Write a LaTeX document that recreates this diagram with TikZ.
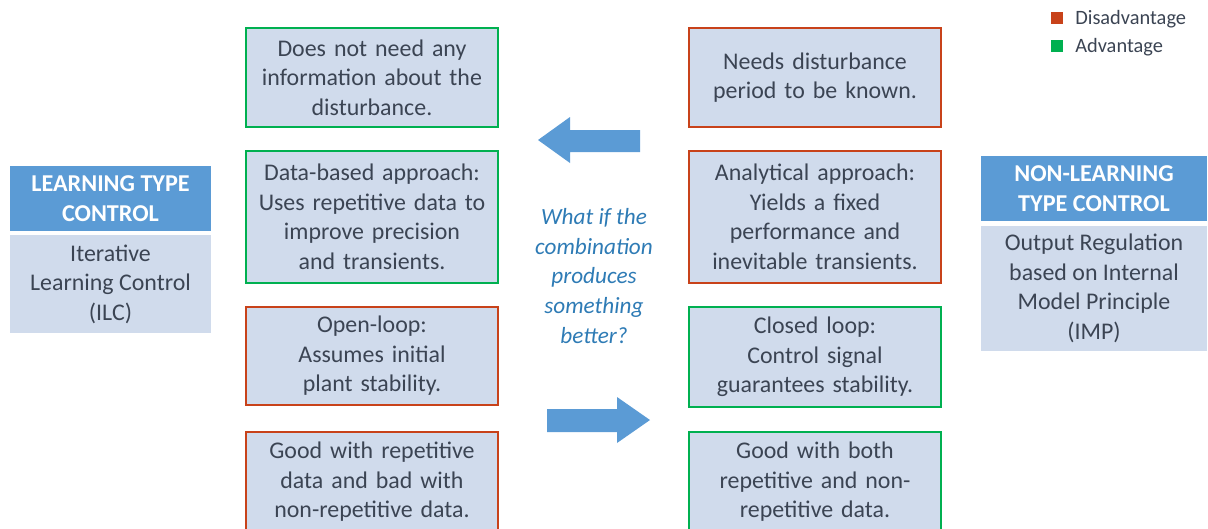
\documentclass[tikz,border=0pt]{standalone}
\usepackage{fontspec}
\setmainfont{Carlito}
\usetikzlibrary{positioning}

\definecolor{txtgray}{HTML}{3B4453}
\definecolor{boxfill}{HTML}{D0DBEC}
\definecolor{hdrblue}{HTML}{5B9BD5}
\definecolor{advgreen}{HTML}{00B050}
\definecolor{disred}{HTML}{C8421A}
\definecolor{askblue}{HTML}{2E7BB5}

\tikzset{
  ttbox/.style={draw, line width=1.2pt, fill=boxfill, text=txtgray,
    minimum width=6.3cm, text width=6.2cm, align=center, inner sep=0pt,
    font=\fontsize{17}{21}\selectfont},
  good/.style={ttbox, draw=advgreen},
  bad/.style={ttbox, draw=disred},
  hdr/.style={fill=hdrblue, text=white, align=center, inner sep=0pt,
    minimum height=1.625cm, font=\bfseries\fontsize{17.2}{21}\selectfont},
  body/.style={fill=boxfill, text=txtgray, align=center, inner sep=0pt,
    font=\fontsize{17}{21}\selectfont},
  legsq/.style={minimum size=0.3cm, inner sep=0pt},
  legtxt/.style={anchor=west, text=txtgray, inner sep=0pt,
    font=\fontsize{14.5}{17}\selectfont}
}

\begin{document}
\begin{tikzpicture}[x=0.025cm, y=-0.025cm]
\useasboundingbox (0,0) rectangle (1208,528);
\clip (0,0) rectangle (1208,528);

% legend
\node[legsq, fill=disred] (sqdis) at (1056.5,18) {};
\node[legtxt] (ldis) at (1075,19.5) {Disadvantage};
\node[legsq, fill=advgreen] (sqadv) at (1056.5,46) {};
\node[legtxt] (ladv) at (1075,47.5) {Advantage};

% learning type
\node[hdr, minimum width=5.025cm] (ilchdr) at (110.5,198.5) {LEARNING TYPE\\CONTROL};
\node[body, minimum width=5.025cm, minimum height=2.45cm] (ilc) at (110.5,284) {Iterative\\Learning Control\\(ILC)};

% non-learning type
\node[hdr, minimum width=5.65cm] (imphdr) at (1094,188.5) {NON-LEARNING\\TYPE CONTROL};
\node[body, minimum width=5.65cm, minimum height=3.125cm] (imp) at (1094,288.5) {Output Regulation\\based on Internal\\Model Principle\\(IMP)};

% ILC column
\node[good, minimum height=2.475cm] (l1) at (372,77.5) {Does not need any\\information about the\\disturbance.};
\node[good, minimum height=3.3cm] (l2) at (372,217) {Data-based approach:\\Uses repetitive data to\\improve precision\\and transients.};
\node[bad, minimum height=2.45cm] (l3) at (372,356) {Open-loop:\\Assumes initial\\plant stability.};
\node[bad, minimum height=2.5cm] (l4) at (372,482) {Good with repetitive\\data and bad with\\non-repetitive data.};

% IMP column
\node[bad, minimum height=2.475cm] (r1) at (815,77.5) {Needs disturbance\\period to be known.};
\node[bad, minimum height=3.3cm] (r2) at (815,217) {Analytical approach:\\Yields a fixed\\performance and\\inevitable transients.};
\node[good, minimum height=2.5cm] (r3) at (815,357) {Closed loop:\\Control signal\\guarantees stability.};
\node[good, minimum height=2.5cm] (r4) at (815,482) {Good with both\\repetitive and non-\\repetitive data.};

% middle
\node[text=askblue, align=center, font=\itshape\fontsize{16.5}{21}\selectfont] (ask) at (594,276) {What if the\\combination\\produces\\something\\better?};
\fill[hdrblue] (538,140) -- (570,117) -- (570,130) -- (640,130) -- (640,152) -- (570,152) -- (570,163) -- cycle;
\fill[hdrblue] (650,420) -- (617,397) -- (617,409) -- (547,409) -- (547,432) -- (617,432) -- (617,443) -- cycle;
\end{tikzpicture}
\end{document}
